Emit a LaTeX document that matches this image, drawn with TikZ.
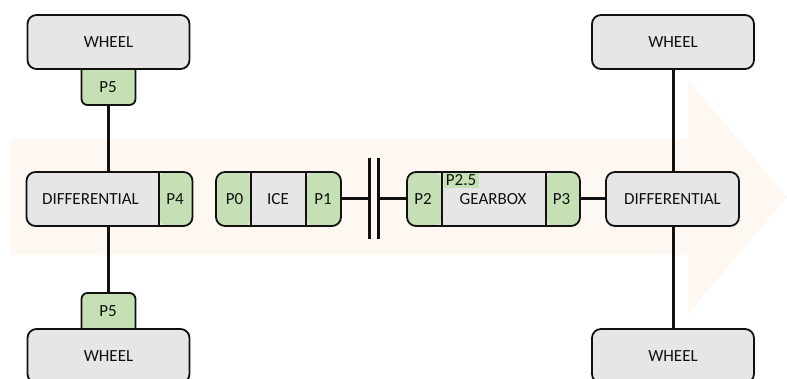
\documentclass[tikz,border=0pt]{standalone}
\usepackage{fontspec}
\setmainfont{Carlito}
\usetikzlibrary{calc}
\definecolor{boxgray}{HTML}{E6E6E6}
\definecolor{pgreen}{HTML}{C5E0B4}
\definecolor{flow}{HTML}{FFF7F2}
\definecolor{ink}{HTML}{111111}
\tikzset{
  x=1pt,y=-1pt,
  unit/.style={draw=ink,line width=1.8pt,fill=boxgray,rounded corners=9pt,inner sep=0pt,
    font=\fontsize{17}{19}\selectfont,text=ink,minimum height=54pt},
  tab/.style={draw=ink,line width=1.8pt,fill=pgreen,rounded corners=6pt,inner sep=0pt,
    minimum width=54pt,minimum height=46pt},
  lbl/.style={inner sep=0pt,font=\fontsize{17}{19}\selectfont,text=ink},
  shaft/.style={draw=ink,line width=3pt},
  twoparts/.style n args={2}{path picture={
    \fill[pgreen] (path picture bounding box.north west) rectangle ($(path picture bounding box.south west)+(#1,0)$);
    \fill[pgreen] (path picture bounding box.north east) rectangle ($(path picture bounding box.south east)+(-#2,0)$);
    \draw[ink,line width=1.8pt] ($(path picture bounding box.north west)+(#1,0)$) -- ($(path picture bounding box.south west)+(#1,0)$);
    \draw[ink,line width=1.8pt] ($(path picture bounding box.north east)+(-#2,0)$) -- ($(path picture bounding box.south east)+(-#2,0)$);}},
  rightpart/.style={path picture={
    \fill[pgreen] (path picture bounding box.north east) rectangle ($(path picture bounding box.south east)+(-#1,0)$);
    \draw[ink,line width=1.8pt] ($(path picture bounding box.north east)+(-#1,0)$) -- ($(path picture bounding box.south east)+(-#1,0)$);}},
}
\begin{document}
\begin{tikzpicture}
\useasboundingbox (0,0) rectangle (787,379);
\clip (0,0) rectangle (787,379);
% flow arrow
\fill[flow] (11,139) -- (688,139) -- (688,80) -- (787,197) -- (688,314) -- (688,255) -- (11,255) -- cycle;
% P5 tabs (tucked behind the wheels)
\node[tab] (p5a) at (108.5,82) {};
\node[tab] (p5b) at (108.5,316) {};
% wheels
\node[unit,minimum width=162pt] (w1) at (108.5,42) {WHEEL};
\node[unit,minimum width=162pt] (w2) at (108.5,356) {WHEEL};
\node[unit,minimum width=162pt] (w3) at (673,42) {WHEEL};
\node[unit,minimum width=162pt] (w4) at (673,356) {WHEEL};
\node[lbl] (p5at) at (108,87.5) {P5};
\node[lbl] (p5bt) at (108,311) {P5};
% units
\node[unit,minimum width=166pt,rightpart=33.5pt] (dl) at (109.5,199) {};
\node[lbl] (dlt) at (90.5,199) {DIFFERENTIAL};
\node[lbl] (p4) at (175,199) {P4};
\node[unit,minimum width=125pt,twoparts={35pt}{35pt}] (ice) at (278.5,199) {};
\node[lbl] (p0) at (234.5,199) {P0};
\node[lbl] (icet) at (278,199) {ICE};
\node[lbl] (p1) at (323,199) {P1};
\node[unit,minimum width=173pt,twoparts={35pt}{34pt}] (gb) at (493.5,199) {};
\node[lbl] (p2) at (423,199) {P2};
\node[lbl] (gbt) at (493,199) {GEARBOX};
\node[lbl] (p3) at (561.5,199) {P3};
\node[fill=pgreen,inner sep=0pt,minimum width=35pt,minimum height=15pt,font=\fontsize{17}{19}\selectfont,text=ink] (p25) at (461,180.5) {P2.5};
\node[unit,minimum width=133pt] (dr) at (672.5,199) {DIFFERENTIAL};
% clutch
\coordinate (c1t) at (369,158); \coordinate (c1b) at (369,239);
\coordinate (c2t) at (378.5,158); \coordinate (c2b) at (378.5,239);
\coordinate (c1m) at (369,199); \coordinate (c2m) at (378.5,199);
\draw[shaft] (c1t) -- (c1b);
\draw[shaft] (c2t) -- (c2b);
% connectors
\draw[shaft] (ice.east) -- (c1m);
\draw[shaft] (c2m) -- (gb.west);
\draw[shaft] (gb.east) -- (dr.west);
\draw[shaft] (p5a.south) -- (p5a.south |- dl.north);
\draw[shaft] (p5b.north |- dl.south) -- (p5b.north);
\draw[shaft] (w3.south) -- (w3.south |- dr.north);
\draw[shaft] (w4.north |- dr.south) -- (w4.north);
\end{tikzpicture}
\end{document}
